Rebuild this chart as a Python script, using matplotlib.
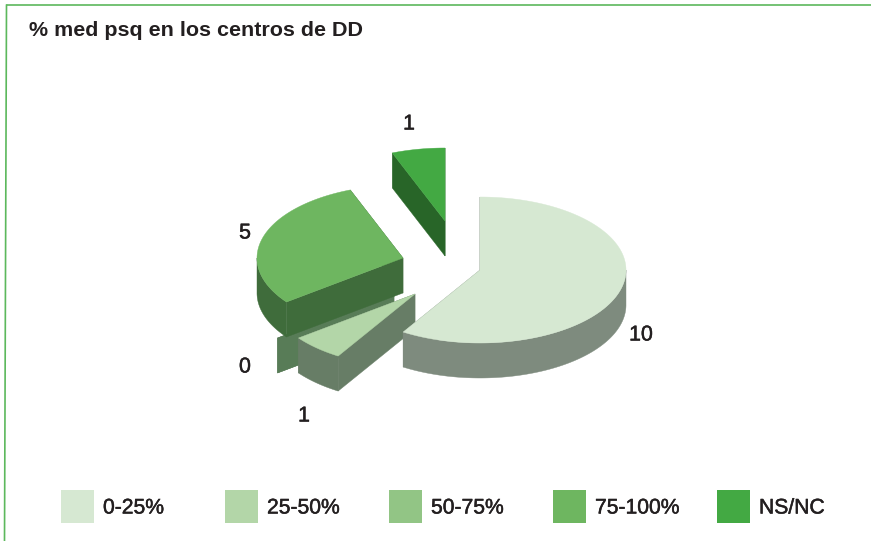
import numpy as np
import matplotlib
matplotlib.use("Agg")
import matplotlib.pyplot as plt
import matplotlib.patheffects as pe
from matplotlib.patches import Rectangle

# ---- data ----
title = "% med psq en los centros de DD"
categories = ["0-25%", "25-50%", "50-75%", "75-100%", "NS/NC"]
values = [10, 1, 0, 5, 1]

# ---- styles / layout ----
top_colors = ["#d6e8d2", "#b3d6a8", "#92c585", "#6eb660", "#43a943"]
side_colors = ["#7e8b7e", "#677d66", "#587c57", "#3f6c3b", "#286528"]
centers = [(480, 270), (415, 294), (394, 294), (403, 258), (445, 221)]
label_pos = [(641, 335), (304, 416), (245, 367), (245, 233), (409, 124)]
RX, RY, DEPTH = 146, 73, 35
draw_order = [4, 2, 3, 1, 0]
legend_x = [61, 225, 389, 553, 717]
FRAME = "#5cb85c"
TEXT = "#231f20"
bolder = [pe.withStroke(linewidth=0.35, foreground=TEXT)]

plt.rcParams["font.family"] = ["Liberation Sans", "DejaVu Sans"]
fig = plt.figure(figsize=(8.71, 5.41), dpi=100)
ax = fig.add_axes([0, 0, 1, 1])
ax.set_xlim(0, 871)
ax.set_ylim(541, 0)
ax.axis("off")

# frame
ax.plot([6.5, 871], [5.2, 5.2], color=FRAME, lw=1.2)
ax.plot([6.5, 4.5], [5.2, 541], color=FRAME, lw=1.2)

ax.text(29, 30.5, title, fontsize=15.45, fontweight="bold", color=TEXT, va="center", ha="left")

# angles derived from the values, clockwise from 12 o'clock
fr = np.array(values, float) / sum(values) * 360
starts = np.concatenate([[0], np.cumsum(fr)[:-1]])


def pt(cx, cy, t):
    t = np.radians(t)
    return cx + RX * np.sin(t), cy - RY * np.cos(t)


for i in draw_order:
    cx, cy = centers[i]
    z = 2 + draw_order.index(i)
    t0, t1 = starts[i], starts[i] + fr[i]
    ts = np.linspace(t0, t1, max(int(fr[i]) * 2, 2))
    ax_, ay_ = pt(cx, cy, ts)
    # radial walls
    for t in (t0, t1):
        x, y = pt(cx, cy, t)
        ax.fill([cx, x, x, cx], [cy, y, y + DEPTH, cy + DEPTH],
                color=side_colors[i], lw=0.3, zorder=z)
    # outer wall (front-facing part only)
    lo, hi = max(t0, 90), min(t1, 270)
    if hi > lo:
        tw = np.linspace(lo, hi, 200)
        wx, wy = pt(cx, cy, tw)
        ax.fill(np.r_[wx, wx[::-1]], np.r_[wy, wy[::-1] + DEPTH],
                color=side_colors[i], lw=0.3, zorder=z)
    # top face
    if fr[i] > 0:
        ax.fill(np.r_[cx, ax_], np.r_[cy, ay_], color=top_colors[i], lw=0.3, zorder=z + 0.5)
    lx, ly = label_pos[i]
    ax.text(lx, ly, str(values[i]), fontsize=15.4, color=TEXT, ha="center", va="center",
            zorder=20, path_effects=bolder)

# legend
for x, c, name in zip(legend_x, top_colors, categories):
    ax.add_patch(Rectangle((x, 490), 33, 33, facecolor=c, edgecolor="none"))
    ax.text(x + 42, 508, name, fontsize=15.2, color=TEXT, ha="left", va="center", path_effects=bolder)

fig.savefig("out.png", dpi=100)
